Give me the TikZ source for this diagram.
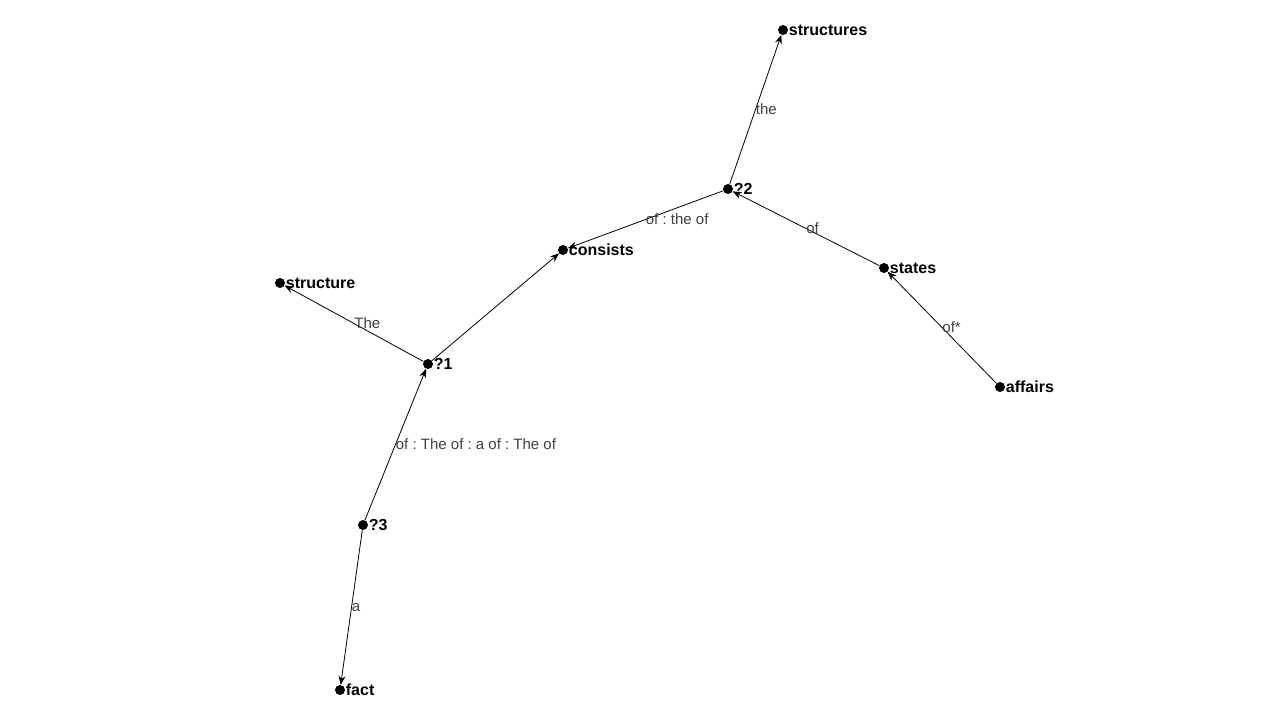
\documentclass[tikz,border=0pt]{standalone}
\usepackage{fontspec}
\setmainfont{Liberation Sans}
\usetikzlibrary{arrows.meta}
\frenchspacing
\begin{document}
\begin{tikzpicture}[x=1pt,y=-1pt,
  dot/.style={circle,fill=black,inner sep=0pt,minimum size=10pt},
  lbl/.style={anchor=west,inner sep=0pt,font=\fontsize{16}{18}\selectfont\bfseries},
  edge/.style={draw=black,line width=0.8pt,-{Stealth[length=9pt,width=7pt]}},
  elbl/.style={anchor=west,inner sep=0pt,text=black!75,font=\fontsize{15}{17}\selectfont}]
\useasboundingbox (0,0) rectangle (1280,720);
\node[dot] (structures) at (783,30) {};
\node[dot] (q2) at (728,189) {};
\node[dot] (consists) at (563,250) {};
\node[dot] (states) at (884,268) {};
\node[dot] (structure) at (280,283) {};
\node[dot] (q1) at (428,364) {};
\node[dot] (affairs) at (1000,387) {};
\node[dot] (q3) at (363,525) {};
\node[dot] (fact) at (340,690) {};
\node[lbl] (tstructures) at ([xshift=0.5pt]structures.east) {structures};
\node[lbl] (tq2) at ([xshift=0.5pt]q2.east) {?2};
\node[lbl] (tconsists) at ([xshift=0.5pt]consists.east) {consists};
\node[lbl] (tstates) at ([xshift=0.5pt]states.east) {states};
\node[lbl] (tstructure) at ([xshift=0.5pt]structure.east) {structure};
\node[lbl] (tq1) at ([xshift=0.5pt]q1.east) {?1};
\node[lbl] (taffairs) at ([xshift=0.5pt]affairs.east) {affairs};
\node[lbl] (tq3) at ([xshift=0.5pt]q3.east) {?3};
\node[lbl] (tfact) at ([xshift=0.5pt]fact.east) {fact};
\draw[edge] (q2) -- node[elbl] (e1) {the} (structures);
\draw[edge] (q2) -- node[elbl] (e2) {of : the of} (consists);
\draw[edge] (states) -- node[elbl] (e3) {of} (q2);
\draw[edge] (affairs) -- node[elbl] (e4) {of*} (states);
\draw[edge] (q1) -- node[elbl] (e5) {The} (structure);
\draw[edge] (q1) -- (consists);
\draw[edge] (q3) -- node[elbl] (e6) {of : The of : a of : The of} (q1);
\draw[edge] (q3) -- node[elbl] (e7) {a} (fact);
\end{tikzpicture}
\end{document}
